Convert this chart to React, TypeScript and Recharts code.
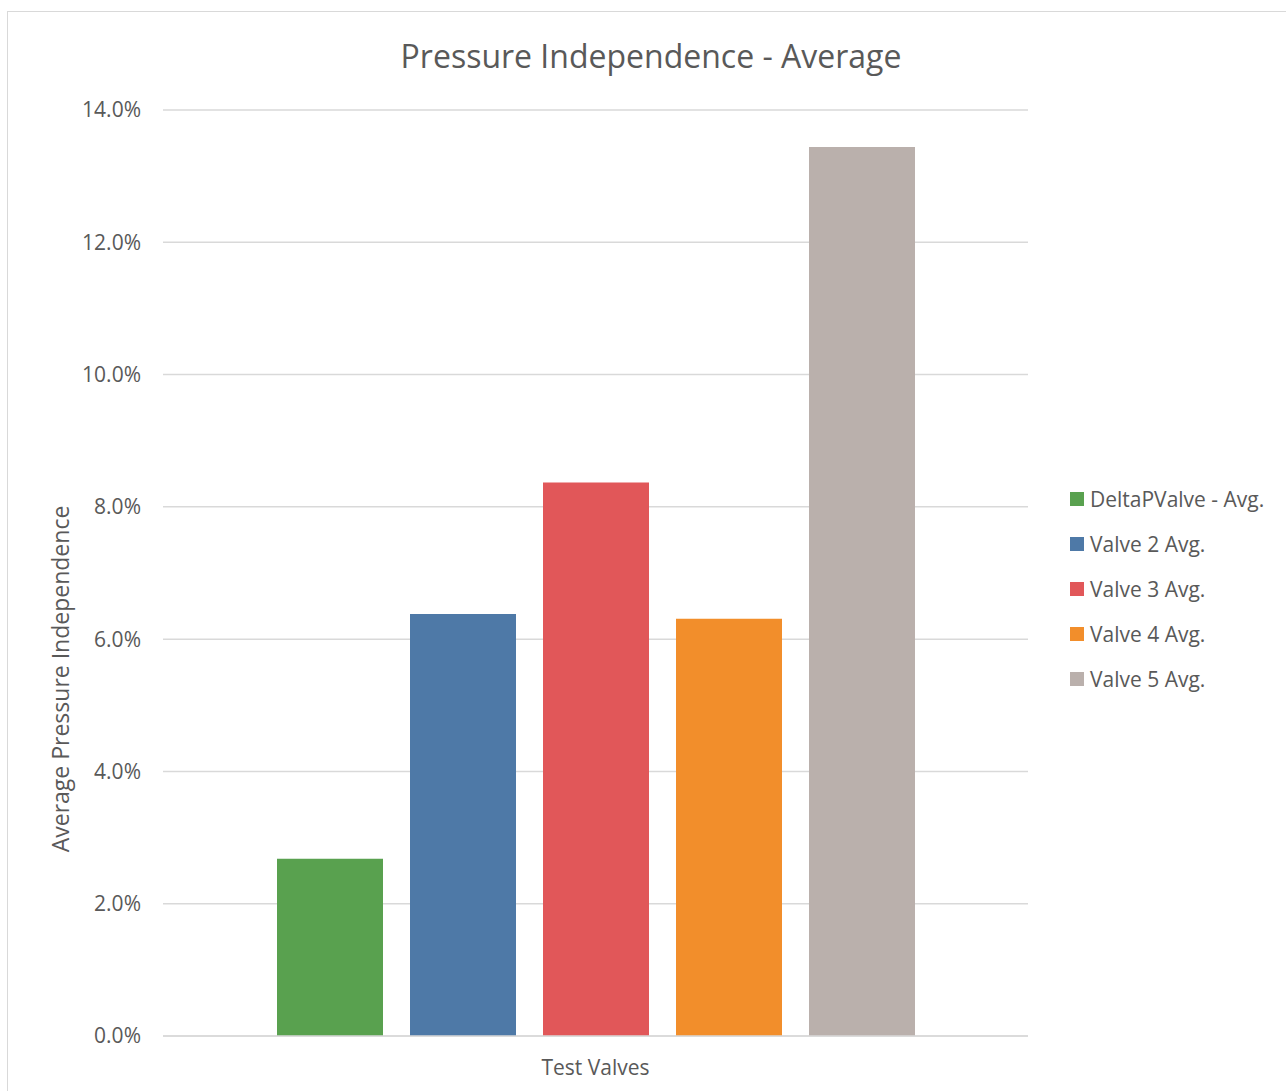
import { BarChart, Bar, XAxis, YAxis, CartesianGrid, Label } from 'recharts';

const categories = ['Test Valves'];
const seriesNames = ['DeltaPValve - Avg.', 'Valve 2 Avg.', 'Valve 3 Avg.', 'Valve 4 Avg.', 'Valve 5 Avg.'];
const seriesValues = [0.0268, 0.0638, 0.0837, 0.0631, 0.1344];
const seriesColors = ['#59A14F', '#4E79A7', '#E15759', '#F28E2B', '#BAB0AC'];
const yTicks = [0, 0.02, 0.04, 0.06, 0.08, 0.1, 0.12, 0.14];

const FONT = '"Open Sans", "Noto Sans", sans-serif';
const TEXT = '#595959';
const GRID = '#d9d9d9';

const data = categories.map((name) => {
  const row: Record<string, any> = { name };
  seriesNames.forEach((s, i) => {
    row['s' + i] = seriesValues[i];
  });
  return row;
});

function LegendBox() {
  return (
    <div style={{ position: 'absolute', left: 1070, top: 476, fontFamily: FONT, fontSize: 21, color: TEXT }}>
      {seriesNames.map((s, i) => (
        <div key={s} style={{ display: 'flex', alignItems: 'center', height: 45, whiteSpace: 'nowrap' }}>
          <span style={{ display: 'inline-block', width: 14, height: 14, background: seriesColors[i], marginRight: 6 }} />
          <span>{s}</span>
        </div>
      ))}
    </div>
  );
}

export default function App() {
  return (
    <div style={{ position: 'absolute', left: 0, top: 0, width: 1286, height: 1091, overflow: 'hidden', background: '#fff' }}>
      <div style={{ position: 'absolute', left: 7, top: 11, width: 1300, height: 1100, border: `1.5px solid ${GRID}` }} />
      <div style={{ position: 'absolute', left: 0, top: 34, width: 1302, textAlign: 'center', fontFamily: FONT, fontSize: 32, color: TEXT }}>
        Pressure Independence - Average
      </div>
      <div style={{ position: 'absolute', left: 0, top: 0 }}>
        <BarChart
          width={1286}
          height={1091}
          data={data}
          margin={{ top: 110, right: 258, bottom: 0, left: 0 }}
          barSize={106}
          barGap={27}
        >
          <CartesianGrid vertical={false} stroke={GRID} strokeWidth={1.5} />
          <XAxis
            dataKey="name"
            axisLine={{ stroke: GRID, strokeWidth: 1.5 }}
            tickLine={false}
            tickSize={0}
            tickMargin={24}
            height={55}
            tick={{ fill: TEXT, fontSize: 21, fontFamily: FONT }}
          />
          <YAxis
            width={163}
            domain={[0, 0.14]}
            ticks={yTicks}
            axisLine={false}
            tickLine={false}
            tickSize={0}
            tickMargin={22}
            tickFormatter={(v: number) => (v * 100).toFixed(1) + '%'}
            tick={{ fill: TEXT, fontSize: 21, fontFamily: FONT }}
          >
            <Label
              content={() => (
                <text
                  x={60}
                  y={679}
                  transform="rotate(-90 60 679)"
                  textAnchor="middle"
                  dominantBaseline="central"
                  fill={TEXT}
                  fontSize={23}
                  fontFamily={FONT}
                >
                  Average Pressure Independence
                </text>
              )}
            />
          </YAxis>
          {seriesNames.map((s, i) => (
            <Bar key={s} dataKey={'s' + i} name={s} fill={seriesColors[i]} isAnimationActive={false} />
          ))}
        </BarChart>
      </div>
      <LegendBox />
    </div>
  );
}
